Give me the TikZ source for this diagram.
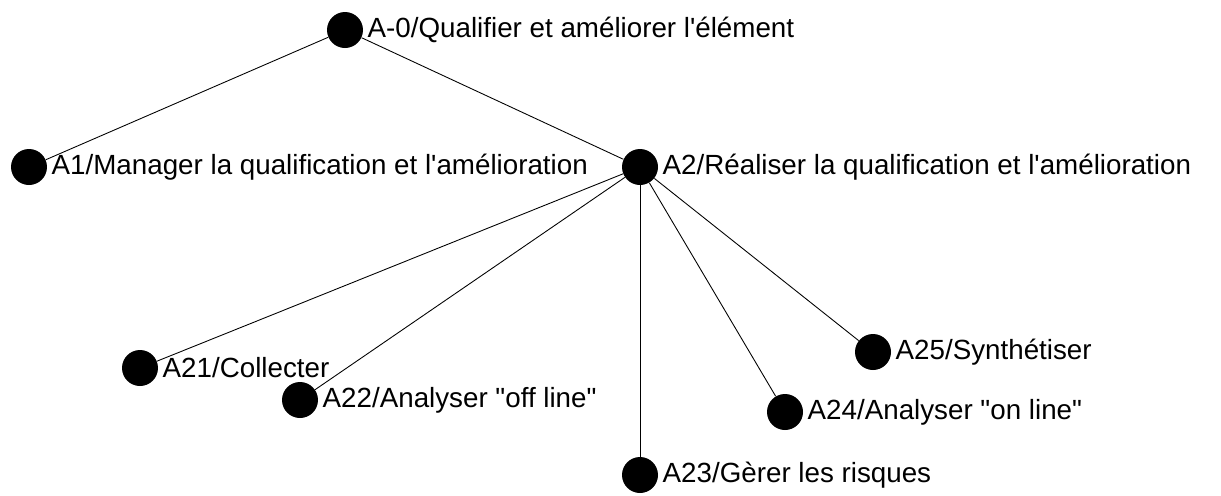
\documentclass[tikz,border=0pt]{standalone}
\usepackage{fontspec}
\setmainfont{Liberation Sans}
\usetikzlibrary{positioning}

\begin{document}
\begin{tikzpicture}[x=0.02cm,y=-0.02cm]

    \tikzstyle{act}+=[
        circle,
        fill=black,
        inner sep=0pt,
        minimum size=0.72cm
    ]
    \tikzstyle{lbl}+=[
        inner sep=0pt,
        font=\fontsize{15.8}{18}\selectfont
    ]
    \tikzstyle{edge}+=[
        line width = 0.5pt
    ]

    \useasboundingbox (0,0) rectangle (1221,495);

    % ----------------------------------------------------------------------------
    \node[act] (a0) at (345,30) {};
    \node[act] (a1) at (29,167) {};
    \node[act] (a2) at (640,167) {};
    \node[act] (a21) at (140,368) {};
    \node[act] (a22) at (300,400) {};
    \node[act] (a23) at (640,475) {};
    \node[act] (a24) at (785,412) {};
    \node[act] (a25) at (873,352) {};

    % ----------------------------------------------------------------------------
    \node[lbl, right=0.08cm of a0] (a0t) {A-0/Qualifier et améliorer l\textquotesingle{}élément};
    \node[lbl, right=0.08cm of a1] (a1t) {A1/Manager la qualification et l\textquotesingle{}amélioration};
    \node[lbl, right=0.08cm of a2] (a2t) {A2/Réaliser la qualification et l\textquotesingle{}amélioration};
    \node[lbl, right=0.08cm of a21] (a21t) {A21/Collecter};
    \node[lbl, right=0.08cm of a22] (a22t) {A22/Analyser \textquotedbl{}off line\textquotedbl};
    \node[lbl, right=0.08cm of a23] (a23t) {A23/Gèrer les risques};
    \node[lbl, right=0.08cm of a24] (a24t) {A24/Analyser \textquotedbl{}on line\textquotedbl};
    \node[lbl, right=0.08cm of a25] (a25t) {A25/Synthétiser};

    % ----------------------------------------------------------------------------
    \draw[edge] (a0) -- (a1);
    \draw[edge] (a0) -- (a2);
    \draw[edge] (a2) -- (a21);
    \draw[edge] (a2) -- (a22);
    \draw[edge] (a2) -- (a23);
    \draw[edge] (a2) -- (a24);
    \draw[edge] (a2) -- (a25);

\end{tikzpicture}
\end{document}
